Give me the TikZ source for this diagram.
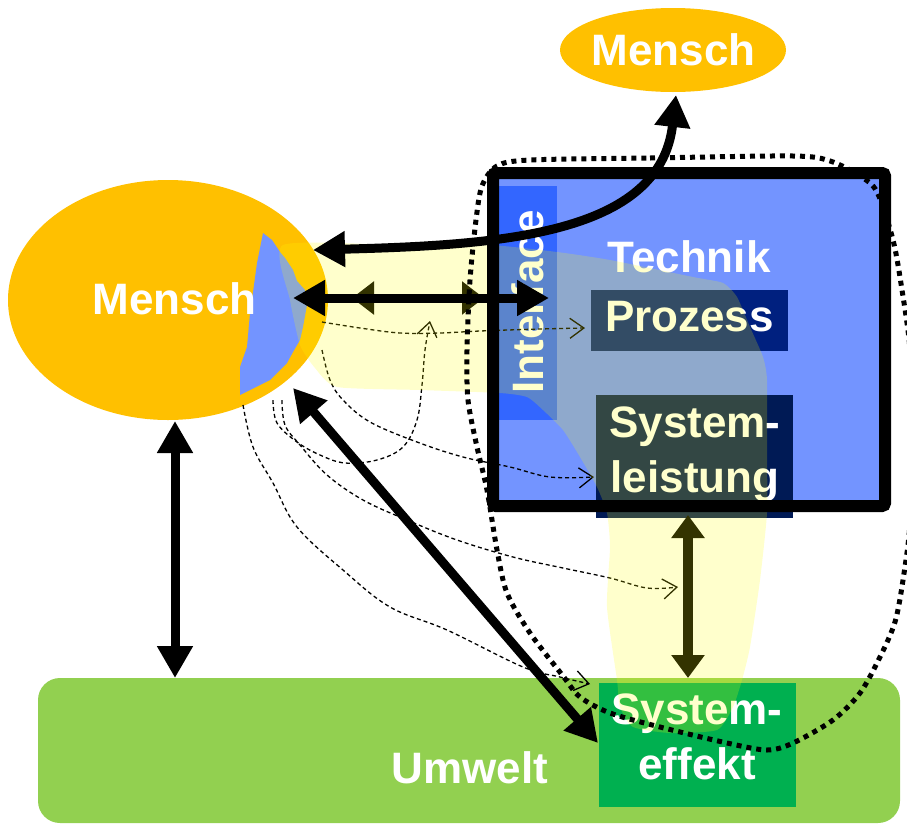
\documentclass[tikz,border=0pt]{standalone}
\usepackage{fontspec}
\setmainfont{Liberation Sans}
\usetikzlibrary{arrows.meta,shapes.geometric}
\definecolor{mensch}{HTML}{FFC000}
\definecolor{umwelt}{HTML}{92D050}
\definecolor{effekt}{HTML}{00B050}
\definecolor{technik}{HTML}{7394FF}
\definecolor{iface}{HTML}{3366FF}
\definecolor{prozess}{HTML}{00207F}
\definecolor{leistung}{HTML}{001A55}
\definecolor{haze}{HTML}{FFFF00}
\begin{document}
\begin{tikzpicture}[x=1pt,y=-1pt,
  txt/.style={font=\fontsize{44pt}{55pt}\selectfont\bfseries, text=white, align=center, inner sep=0pt},
  panel/.style={inner sep=0pt, outer sep=0pt, draw=none},
  bigarrow/.style={line width=9pt, {Triangle[length=32pt,width=34pt]}-{Triangle[length=32pt,width=34pt]}},
  hidarrow/.style={line width=9pt, {Triangle[length=22pt,width=32pt]}-{Triangle[length=22pt,width=32pt]}},
  flow/.style={line width=1.3pt, dash pattern=on 4pt off 3pt, -{Straight Barb[length=14pt,width=20pt,line width=1.3pt]}},
  dotloop/.style={line width=5pt, dash pattern=on 5pt off 5pt}]
\useasboundingbox (0,0) rectangle (907,825);

% environment strip
\node[panel, fill=umwelt, rounded corners=22pt, minimum width=862pt, minimum height=145pt] (umweltbox) at (469,750.5) {};

% the two persons
\node[panel, ellipse, fill=mensch, minimum width=320pt, minimum height=240pt] (menschL) at (168,300) {};
\node[panel, ellipse, fill=mensch, minimum width=226pt, minimum height=84pt] (menschT) at (673,50) {};

% torn blue face of the left person
\fill[technik] (263,233) -- (272,240) -- (280,252) -- (285,258) -- (293,270) -- (297,281)
  -- (305,290) -- (307,305) -- (303,327) -- (300,340) -- (293,352) -- (287,363)
  -- (270,380) -- (250,390) -- (240,395) -- (240,367) -- (247,347) -- (250,313)
  -- (254,285) -- (257,263) -- cycle;

% technology block and its parts
\node[panel, fill=technik, minimum width=392pt, minimum height=333pt] (technikfill) at (689,339.5) {};
\node[panel, fill=iface, minimum width=58pt, minimum height=234pt] (ifacebox) at (528,303) {};
\node[panel, fill=prozess, minimum width=197pt, minimum height=61pt] (prozessbox) at (689.5,320.5) {};
\node[panel, fill=leistung, minimum width=197pt, minimum height=123pt] (leistungbox) at (694.5,456.5) {};
\node[panel, fill=effekt, minimum width=197pt, minimum height=124pt] (effektbox) at (697.5,745) {};

% labels
\node[txt] (tMenschL) at (174.5,298.5) {Mensch};
\node[txt] (tMenschT) at (673.5,50) {Mensch};
\node[txt] (tTechnik) at (689,256.5) {Technik};
\node[txt, rotate=90] (tIface) at (528,302) {Interface};
\node[txt] (tProzess) at (689.5,317) {Prozess};
\node[txt] (tLeistung) at (695,454) {System-\\leistung};
\node[txt] (tEffekt) at (697,737) {System-\\effekt};
\node[txt] (tUmwelt) at (470,768) {Umwelt};

% arrow end points
\coordinate (hL) at (293,298);  \coordinate (hR) at (549,298);
\coordinate (sL) at (352,298);  \coordinate (sR) at (484,298);
\coordinate (cL) at (313,250);  \coordinate (cT) at (676,95);
\coordinate (vT) at (175,421);  \coordinate (vB) at (175,678);
\coordinate (dT) at (293,388);  \coordinate (dB) at (598,743);
\coordinate (oT) at (688,515);  \coordinate (oB) at (688,678);

% influence paths (dashed)
\draw[flow] plot[smooth, tension=0.6] coordinates {(322,322) (360,328) (400,333) (440,333) (480,331) (540,329) (585,328)};
\draw[flow] plot[smooth, tension=0.6] coordinates {(273,400) (277,423) (297,442) (320,455) (345,463) (377,460) (403,447) (417,420) (422,385) (425,350) (430,321)};
\draw[flow] plot[smooth, tension=0.6] coordinates {(322,350) (330,380) (343,400) (370,422) (417,442) (463,457) (510,467) (550,477) (594,477)};
\draw[flow] plot[smooth, tension=0.6] coordinates {(282,400) (285,425) (300,445) (327,475) (363,500) (407,520) (457,540) (513,557) (563,568) (610,578) (647,588) (678,587)};
\draw[flow] plot[smooth, tension=0.6] coordinates {(243,405) (253,447) (273,483) (297,527) (343,570) (390,607) (447,630) (523,667) (560,677) (590,684)};

% arrows lying under the highlight
\draw[hidarrow] (sL) -- (sR);
\draw[line width=10pt, {Triangle[length=23pt,width=32pt]}-{Triangle[length=23pt,width=32pt]}] (oT) -- (oB);

% translucent highlight band
\fill[haze, opacity=0.2] plot[smooth cycle, tension=0.35] coordinates {
  (283,245) (400,245) (490,245) (557,252) (610,260) (693,277) (723,283) (737,297)
  (750,327) (763,357) (767,380) (767,450) (767,513) (760,580) (750,647) (742,680)
  (733,707) (717,730) (670,733) (633,727) (620,707) (617,680) (607,607) (610,547)
  (607,513) (597,487) (580,457) (563,430) (543,410) (527,397) (500,393) (420,390)
  (337,387) (315,368) (300,345) (290,300)};

% technology frame and system boundary
\node[panel, draw=black, line width=12pt, rounded corners=3pt, minimum width=392pt, minimum height=333pt] (technik) at (689,339.5) {};
\draw[dotloop] plot[smooth cycle, tension=0.5] coordinates {
  (530,160) (650,158) (793,156) (830,161) (860,176) (877,192) (893,240) (902,290)
  (910,350) (912,430) (910,523) (903,580) (895,622) (880,657) (860,693) (833,720)
  (793,743) (767,750) (727,743) (660,727) (610,713) (580,697) (563,676) (530,633)
  (507,593) (497,550) (487,490) (477,447) (468,400) (467,350) (470,280) (476,220)
  (482,186) (497,166)};

% main interactions
\draw[bigarrow] (cL) .. controls (500,245) and (660,235) .. (cT);
\draw[bigarrow] (hL) -- (hR);
\draw[bigarrow] (vT) -- (vB);
\draw[bigarrow] (dT) -- (dB);
\end{tikzpicture}
\end{document}
